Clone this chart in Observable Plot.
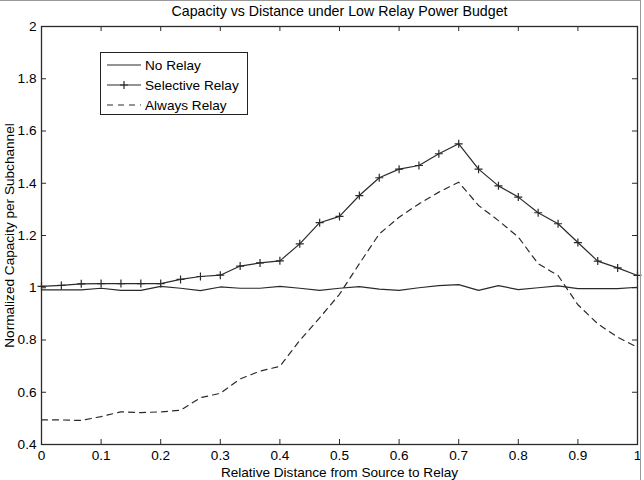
<!DOCTYPE html>
<html><head><meta charset="utf-8">
<script src="https://cdn.jsdelivr.net/npm/d3@7"></script>
<script src="https://cdn.jsdelivr.net/npm/@observablehq/plot@0.6"></script>
<style>
body{margin:0;background:#fff;}
#wrap{position:relative;width:644px;height:480px;font-family:"Liberation Sans",Arial,sans-serif;}
#border{position:absolute;left:0;top:0;width:641px;height:480px;border-top:1px solid #9a9a9a;border-right:1px solid #9a9a9a;box-sizing:border-box;pointer-events:none;}
#legend{position:absolute;left:100px;top:52px;width:148px;height:63px;border:1px solid #222;box-sizing:border-box;background:#fff;font-size:13.6px;color:#000;}
#legend .row{position:absolute;left:0;height:20px;display:flex;align-items:center;}
#legend svg{margin-left:6px;margin-right:4px;}
</style></head><body><div id="wrap"><div id="border"></div></div>
<script>
// Relative distance from source to relay (31 samples)
const distance = [0, 0.0333, 0.0667, 0.1, 0.1333, 0.1667, 0.2, 0.2333, 0.2667, 0.3, 0.3333,
  0.3667, 0.4, 0.4333, 0.4667, 0.5, 0.5333, 0.5667, 0.6, 0.6333, 0.6667, 0.7, 0.7333,
  0.7667, 0.8, 0.8333, 0.8667, 0.9, 0.9333, 0.9667, 1];
const noRelay = [0.992, 0.992, 0.992, 0.998, 0.990, 0.990, 1.005, 0.998, 0.989, 1.003, 0.998,
  0.998, 1.005, 0.998, 0.990, 0.998, 1.004, 0.995, 0.990, 1.000, 1.008, 1.012, 0.990,
  1.008, 0.993, 1.000, 1.007, 0.997, 0.997, 0.997, 1.002];
const selectiveRelay = [1.005, 1.009, 1.015, 1.016, 1.016, 1.016, 1.016, 1.032, 1.043, 1.048, 1.083,
  1.095, 1.103, 1.168, 1.249, 1.273, 1.353, 1.421, 1.454, 1.468, 1.513, 1.551, 1.454,
  1.390, 1.347, 1.287, 1.245, 1.173, 1.102, 1.076, 1.047];
const alwaysRelay = [0.494, 0.494, 0.492, 0.507, 0.525, 0.522, 0.525, 0.531, 0.579, 0.596, 0.651,
  0.681, 0.699, 0.798, 0.885, 0.975, 1.092, 1.206, 1.270, 1.321, 1.366, 1.404, 1.315,
  1.257, 1.194, 1.092, 1.047, 0.935, 0.862, 0.811, 0.772];
const seriesNames = ["No Relay", "Selective Relay", "Always Relay"];
const xTicks = [0, 0.1, 0.2, 0.3, 0.4, 0.5, 0.6, 0.7, 0.8, 0.9, 1];
const yTicks = [0.4, 0.6, 0.8, 1, 1.2, 1.4, 1.6, 1.8, 2];
const title = "Capacity vs Distance under Low Relay Power Budget";
const xLabel = "Relative Distance from Source to Relay";
const yLabel = "Normalized Capacity per Subchannel";

const W = 644, H = 480, mL = 41, mR = 7, mT = 26, mB = 36;
const fw = W - mL - mR, fh = H - mT - mB, tk = 5;
const ink = "#2a2a2a";

const rows = (vals) => distance.map((x, i) => ({x, y: vals[i]}));
const nr = rows(noRelay), sr = rows(selectiveRelay), ar = rows(alwaysRelay);

const chart = Plot.plot({
  width: W, height: H,
  marginLeft: mL, marginRight: mR, marginTop: mT, marginBottom: mB,
  style: {fontFamily: "'Liberation Sans', Arial, sans-serif", fontSize: "13.6px", color: "#000", background: "#fff"},
  x: {domain: [0, 1]},
  y: {domain: [0.4, 2]},
  marks: [
    Plot.line(nr, {x: "x", y: "y", stroke: ink, strokeWidth: 1.2}),
    Plot.line(ar, {x: "x", y: "y", stroke: ink, strokeWidth: 1.2, strokeDasharray: "6,5"}),
    Plot.line(sr, {x: "x", y: "y", stroke: ink, strokeWidth: 1.2}),
    Plot.dot(sr, {x: "x", y: "y", symbol: "plus", r: 2.7, stroke: ink, strokeWidth: 1.2}),
    // inward ticks on all four sides
    Plot.tickX(xTicks, {x: d => d, insetTop: fh - tk, stroke: ink}),
    Plot.tickX(xTicks, {x: d => d, insetBottom: fh - tk, stroke: ink}),
    Plot.tickY(yTicks, {y: d => d, insetRight: fw - tk, stroke: ink}),
    Plot.tickY(yTicks, {y: d => d, insetLeft: fw - tk, stroke: ink}),
    Plot.frame({stroke: ink, strokeWidth: 1.3}),
    Plot.axisX(xTicks, {tickSize: 0, tickPadding: 6, tickFormat: d => String(d), label: xLabel, labelAnchor: "center", labelOffset: 32, labelArrow: "none", fill: "#000"}),
    Plot.axisY(yTicks, {tickSize: 0, tickPadding: 5, tickFormat: d => String(d), label: yLabel, labelAnchor: "center", labelOffset: 37, labelArrow: "none", fill: "#000"}),
    Plot.text([title], {text: d => d, frameAnchor: "top", lineAnchor: "middle", dy: -15, fill: "#000", fontSize: 14.2})
  ]
});
const wrap = document.getElementById("wrap");
wrap.insertBefore(chart, wrap.firstChild);

// legend box inside the plot
const legend = document.createElement("div");
legend.id = "legend";
const styles = [{dash: null, marker: false}, {dash: null, marker: true}, {dash: "6,5", marker: false}];
seriesNames.forEach((name, i) => {
  const row = document.createElement("div");
  row.className = "row";
  row.style.top = (2 + i * 20) + "px";
  const s = styles[i];
  row.innerHTML = `<svg width="34" height="12"><line x1="0" x2="34" y1="6" y2="6" stroke="${ink}" stroke-width="1.2" ${s.dash ? `stroke-dasharray="${s.dash}"` : ""}/>${s.marker ? `<path d="M17,2V10M13,6H21" stroke="${ink}" stroke-width="1.2"/>` : ""}</svg><span>${name}</span>`;
  legend.appendChild(row);
});
wrap.appendChild(legend);
</script>
</body></html>
